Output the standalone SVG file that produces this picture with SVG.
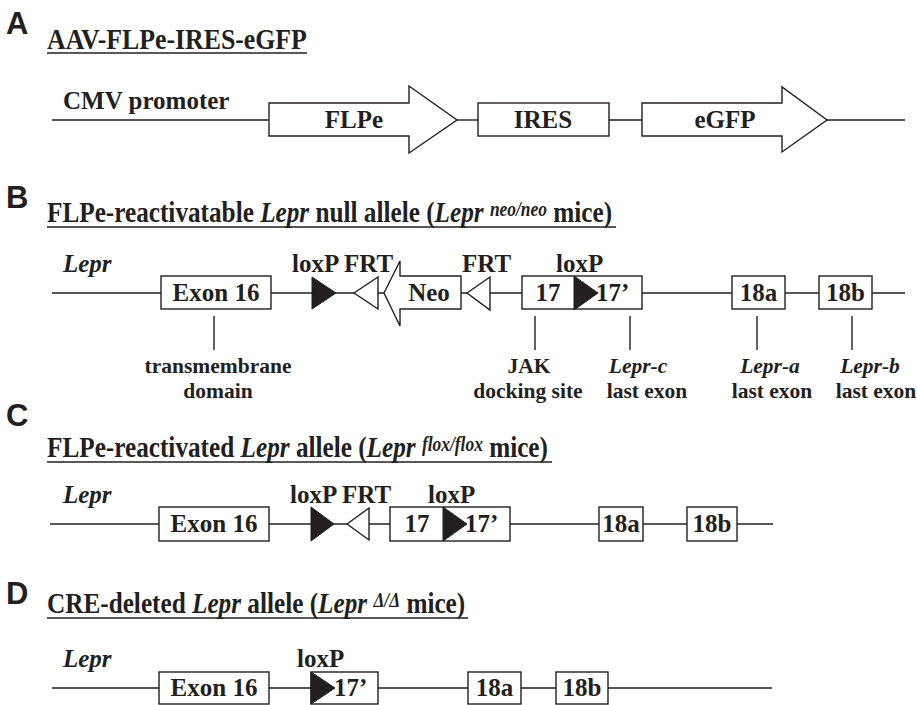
<svg xmlns="http://www.w3.org/2000/svg" width="917" height="705" viewBox="0 0 917 705">
<style>
.t{font-family:"Liberation Serif","Times New Roman",serif;font-weight:bold;fill:#231f20}
.lab{font-size:25px}
.sm{font-size:21.5px}
.i{font-style:italic}
.ttl{font-size:29px}
.sup{font-size:20px;font-style:italic}
.pl{font-family:"Liberation Sans",Arial,sans-serif;font-weight:bold;font-size:31px;fill:#231f20}
.box{fill:#fff;stroke:#231f20;stroke-width:1.4}
.ln{stroke:#231f20;stroke-width:1.4;fill:none}
.lox{fill:#231f20;stroke:#231f20;stroke-width:1}
.frt{fill:#fff;stroke:#231f20;stroke-width:1.4}
.c{text-anchor:middle}
</style>
<rect width="917" height="705" fill="#fff"/>

<!-- Panel labels and titles -->
<g id="titles">
<text class="pl" x="6" y="34">A</text>
<text class="t ttl" transform="translate(47,49) scale(0.89,1)">AAV-FLPe-IRES-eGFP</text>
<line class="ln" x1="47" y1="53" x2="307" y2="53"/>

<text class="pl" x="6" y="208">B</text>
<text class="t ttl" transform="translate(47,222) scale(0.87,1)">FLPe-reactivatable <tspan class="i">Lepr</tspan> null allele (<tspan class="i">Lepr</tspan> <tspan class="sup" dy="-6">neo/neo</tspan><tspan dy="6"> mice)</tspan></text>
<line class="ln" x1="47" y1="227" x2="616" y2="227"/>

<text class="pl" x="6" y="426">C</text>
<text class="t ttl" transform="translate(47,457) scale(0.87,1)">FLPe-reactivated <tspan class="i">Lepr</tspan> allele (<tspan class="i">Lepr</tspan> <tspan class="sup" dy="-6">flox/flox</tspan><tspan dy="6"> mice)</tspan></text>
<line class="ln" x1="47" y1="462" x2="552" y2="462"/>

<text class="pl" x="6" y="604">D</text>
<text class="t ttl" transform="translate(47,613) scale(0.87,1)">CRE-deleted <tspan class="i">Lepr</tspan> allele (<tspan class="i">Lepr</tspan> <tspan class="sup" dy="-6">Δ/Δ</tspan><tspan dy="6"> mice)</tspan></text>
<line class="ln" x1="47" y1="618" x2="468" y2="618"/>
</g>

<!-- Connectors (backbone lines and annotation ticks) -->
<g id="connectors">
<line class="ln" x1="52" y1="120" x2="270" y2="120"/>
<line class="ln" x1="457" y1="120" x2="478" y2="120"/>
<line class="ln" x1="609" y1="120" x2="642" y2="120"/>
<line class="ln" x1="827" y1="120" x2="905" y2="120"/>

<line class="ln" x1="52" y1="293" x2="161" y2="293"/>
<line class="ln" x1="271" y1="293" x2="384" y2="293"/>
<line class="ln" x1="461" y1="293" x2="522" y2="293"/>
<line class="ln" x1="642" y1="293" x2="732" y2="293"/>
<line class="ln" x1="785" y1="293" x2="819" y2="293"/>
<line class="ln" x1="872" y1="293" x2="905" y2="293"/>
<line class="ln" x1="214" y1="316" x2="214" y2="350"/>
<line class="ln" x1="535" y1="316" x2="535" y2="350"/>
<line class="ln" x1="630" y1="316" x2="630" y2="350"/>
<line class="ln" x1="757" y1="316" x2="757" y2="350"/>
<line class="ln" x1="852" y1="316" x2="852" y2="350"/>

<line class="ln" x1="50" y1="524" x2="159" y2="524"/>
<line class="ln" x1="269" y1="524" x2="390" y2="524"/>
<line class="ln" x1="510" y1="524" x2="599" y2="524"/>
<line class="ln" x1="643" y1="524" x2="687" y2="524"/>
<line class="ln" x1="737" y1="524" x2="773" y2="524"/>

<line class="ln" x1="52" y1="688" x2="159" y2="688"/>
<line class="ln" x1="269" y1="688" x2="311" y2="688"/>
<line class="ln" x1="378" y1="688" x2="468" y2="688"/>
<line class="ln" x1="521" y1="688" x2="556" y2="688"/>
<line class="ln" x1="608" y1="688" x2="772" y2="688"/>
</g>

<!-- Panel A nodes -->
<g id="a-cmv"><text class="t lab" x="63" y="109">CMV promoter</text></g>
<g id="a-flpe">
<polygon class="box" points="269,103 409,103 409,86 457,120 409,153 409,136 269,136"/>
<text class="t lab c" x="354" y="128">FLPe</text>
</g>
<g id="a-ires">
<rect class="box" x="478" y="103" width="131" height="33"/>
<text class="t lab c" x="543" y="128">IRES</text>
</g>
<g id="a-egfp">
<polygon class="box" points="642,103 782,103 782,87 827,120 782,152 782,136 642,136"/>
<text class="t lab c" x="725" y="128">eGFP</text>
</g>

<!-- Panel B nodes -->
<g id="b-lepr"><text class="t lab i" x="63" y="272">Lepr</text></g>
<g id="b-exon16">
<rect class="box" x="161" y="276" width="110" height="33"/>
<text class="t lab c" x="216" y="301">Exon 16</text>
</g>
<g id="b-loxp1">
<text class="t lab" x="292" y="272">loxP FRT</text>
<polygon class="lox" points="312,277 336,293 312,309"/>
</g>
<g id="b-frt1"><polygon class="frt" points="354,293 378,277 378,309"/></g>
<g id="b-neo">
<polygon class="box" points="384,293 400,261 400,276 461,276 461,309 400,309 400,326"/>
<text class="t lab c" x="429" y="301">Neo</text>
</g>
<g id="b-frt2">
<text class="t lab" x="462" y="272">FRT</text>
<polygon class="frt" points="467,293 490,277 490,310"/>
</g>
<g id="b-exon17">
<rect class="box" x="522" y="276" width="120" height="33"/>
<text class="t lab c" x="548" y="301">17</text>
<polygon class="lox" points="574,276 598,293 574,310"/>
<text class="t lab" x="596" y="301">17’</text>
<text class="t lab" x="556" y="272">loxP</text>
</g>
<g id="b-18a">
<rect class="box" x="732" y="276" width="53" height="33"/>
<text class="t lab c" x="758.5" y="301">18a</text>
</g>
<g id="b-18b">
<rect class="box" x="819" y="276" width="53" height="33"/>
<text class="t lab c" x="845.5" y="301">18b</text>
</g>
<g id="b-annotations">
<text class="t sm c" x="218" y="373">transmembrane</text>
<text class="t sm c" x="218" y="398">domain</text>
<text class="t sm c" x="529" y="373">JAK</text>
<text class="t sm c" x="528" y="398">docking site</text>
<text class="t sm c i" x="638" y="373">Lepr-c</text>
<text class="t sm c" x="647" y="398">last exon</text>
<text class="t sm c i" x="770" y="373">Lepr-a</text>
<text class="t sm c" x="772" y="398">last exon</text>
<text class="t sm c i" x="870" y="373">Lepr-b</text>
<text class="t sm c" x="876" y="398">last exon</text>
</g>

<!-- Panel C nodes -->
<g id="c-lepr"><text class="t lab i" x="63" y="503">Lepr</text></g>
<g id="c-exon16">
<rect class="box" x="159" y="507" width="110" height="34"/>
<text class="t lab c" x="214" y="532">Exon 16</text>
</g>
<g id="c-loxp1">
<text class="t lab" x="290" y="503">loxP FRT</text>
<polygon class="lox" points="311,507 334,524 311,541"/>
</g>
<g id="c-frt"><polygon class="frt" points="347,524 369,508 369,540"/></g>
<g id="c-exon17">
<rect class="box" x="390" y="507" width="120" height="34"/>
<text class="t lab c" x="417" y="532">17</text>
<polygon class="lox" points="443,507 467,524 443,541"/>
<text class="t lab" x="465" y="532">17’</text>
<text class="t lab" x="428" y="503">loxP</text>
</g>
<g id="c-18a">
<rect class="box" x="599" y="507" width="44" height="34"/>
<text class="t lab c" x="621" y="532">18a</text>
</g>
<g id="c-18b">
<rect class="box" x="687" y="507" width="50" height="34"/>
<text class="t lab c" x="712" y="532">18b</text>
</g>

<!-- Panel D nodes -->
<g id="d-lepr"><text class="t lab i" x="63" y="667">Lepr</text></g>
<g id="d-exon16">
<rect class="box" x="159" y="672" width="110" height="32"/>
<text class="t lab c" x="214" y="696">Exon 16</text>
</g>
<g id="d-exon17p">
<rect class="box" x="311" y="672" width="67" height="32"/>
<polygon class="lox" points="311,672 335,688 311,704"/>
<text class="t lab" x="334" y="696">17’</text>
<text class="t lab" x="297" y="667">loxP</text>
</g>
<g id="d-18a">
<rect class="box" x="468" y="672" width="53" height="32"/>
<text class="t lab c" x="494.5" y="696">18a</text>
</g>
<g id="d-18b">
<rect class="box" x="556" y="672" width="52" height="32"/>
<text class="t lab c" x="582" y="696">18b</text>
</g>
</svg>
